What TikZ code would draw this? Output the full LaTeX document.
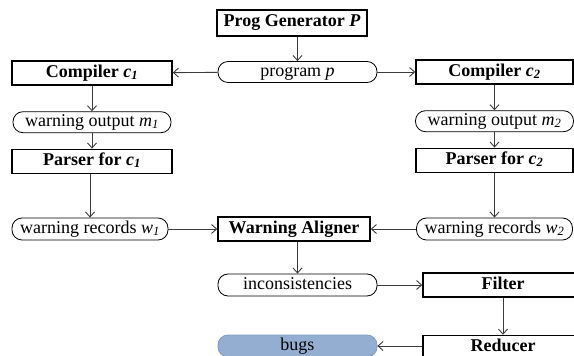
\documentclass[tikz,border=0pt]{standalone}
\usepackage{fontspec}
\setmainfont{Liberation Serif}
\usetikzlibrary{positioning, arrows.meta}

\definecolor{bugblue}{RGB}{148,174,209}
\definecolor{bugedge}{RGB}{126,156,198}
\definecolor{wire}{RGB}{60,60,60}

\begin{document}
\begin{tikzpicture}[x=1pt, y=1pt, node distance={25pt},
    txt/.style = {font=\fontsize{18pt}{20pt}\selectfont, inner sep=0pt,
                  text height=12pt, text depth=4pt},
    proc/.style = {txt, draw, line width=1.6pt, font=\fontsize{18pt}{20pt}\selectfont\bfseries,
                   minimum width=160pt, minimum height=24pt},
    data/.style = {txt, draw, line width=0.8pt, rounded corners=10pt,
                   minimum width=158pt, minimum height=21pt},
    flow/.style = {draw=wire, line width=0.9pt, -{Straight Barb[length=5pt, width=9pt]}}]
    \useasboundingbox (0,0) rectangle (574,-356);

    \node[proc, minimum width=150pt, minimum height=26pt] (gen) at (292,-23) {Prog Generator \textit{P}};
    \node[data, minimum width=159pt] (prog) at (297.5,-72) {program \textit{p}};

    % left column
    \node[proc] (c1) at (92,-73) {Compiler \textit{c\textsubscript{1}}};
    \node[data] (m1) [below=25.5pt of c1] {warning output \textit{m\textsubscript{1}}};
    \node[proc] (par1) [below=15.5pt of m1] {Parser for \textit{c\textsubscript{1}}};
    \node[data, minimum width=156pt, minimum height=22pt] (w1) at (90,-229) {warning records \textit{w\textsubscript{1}}};

    % right column
    \node[proc, minimum width=157pt] (c2) at (494.5,-72) {Compiler \textit{c\textsubscript{2}}};
    \node[data] (m2) [below=25.5pt of c2] {warning output \textit{m\textsubscript{2}}};
    \node[proc, minimum width=157pt] (par2) [below=15.5pt of m2] {Parser for \textit{c\textsubscript{2}}};
    \node[data, minimum width=156pt, minimum height=22pt] (w2) at (494.5,-229) {warning records \textit{w\textsubscript{2}}};

    % middle and bottom
    \node[proc, minimum width=152pt] (align) at (294,-229) {Warning Aligner};
    \node[data, minimum width=159pt, minimum height=22pt] (inc) at (297.5,-285) {inconsistencies};
    \node[proc] (filter) at (503,-285) {Filter};
    \node[proc] (reducer) [below=37pt of filter] {Reducer};
    \node[txt, fill=bugblue, draw=bugedge, line width=0.8pt, rounded corners=10pt,
          minimum width=159pt, minimum height=22pt] (bugs) at (297.5,-346) {bugs};

    \draw[flow] (gen.south -| prog.north) -- (prog);
    \draw[flow] (prog) -- (c1);
    \draw[flow] (prog) -- (c2);
    \draw[flow] (c1) -- (m1);
    \draw[flow] (m1) -- (par1);
    \draw[flow] (par1.south -| w1.north) -- (w1);
    \draw[flow] (c2) -- (m2);
    \draw[flow] (m2) -- (par2);
    \draw[flow] (par2) -- (w2);
    \draw[flow] (w1) -- (align);
    \draw[flow] (w2) -- (align);
    \draw[flow] (align.south -| inc.north) -- (inc);
    \draw[flow] (inc) -- (filter);
    \draw[flow] (filter) -- (reducer);
    \draw[flow] (reducer.west |- bugs.east) -- (bugs);
\end{tikzpicture}
\end{document}
